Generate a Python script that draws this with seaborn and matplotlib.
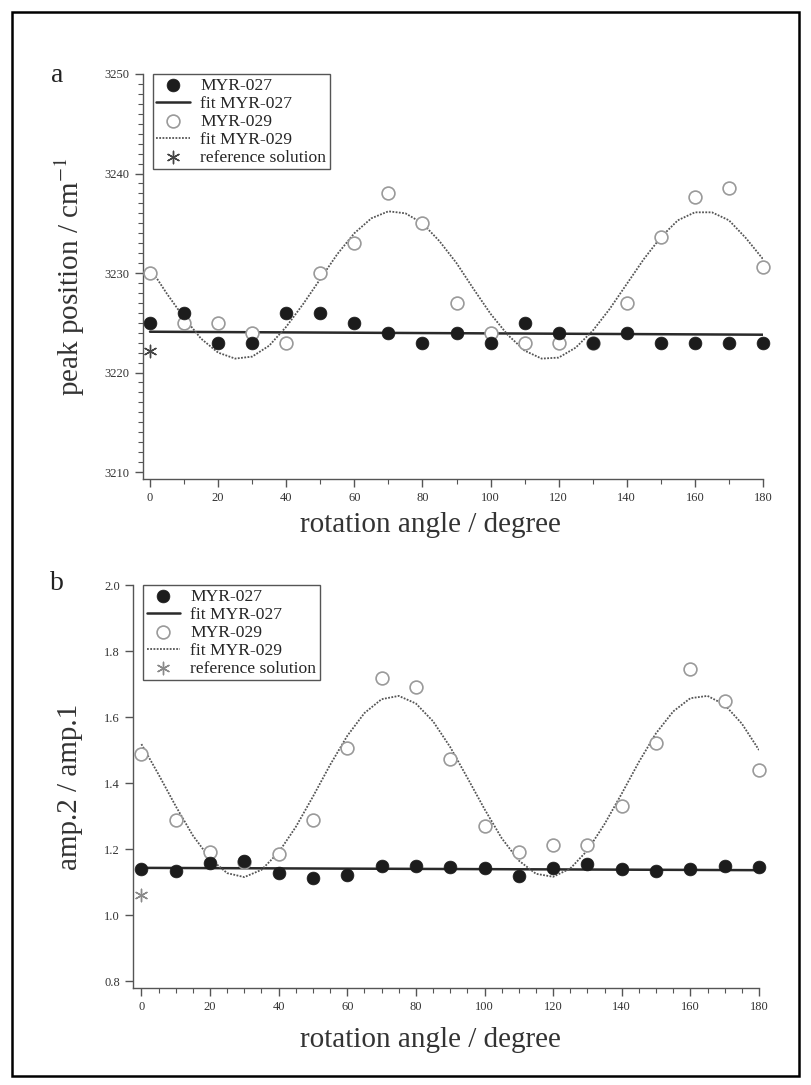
import pandas as pd
import seaborn as sns
import matplotlib.pyplot as plt
from matplotlib.patches import Rectangle
from matplotlib.ticker import MultipleLocator, FormatStrFormatter

# measured points, every 10 degrees
angle = [0, 10, 20, 30, 40, 50, 60, 70, 80, 90, 100, 110, 120, 130, 140, 150, 160, 170, 180]

# panel a: peak position
a_027 = [3225, 3226, 3223, 3223, 3226, 3226, 3225, 3224, 3223, 3224,
         3223, 3225, 3224, 3223, 3224, 3223, 3223, 3223, 3223]
a_029 = [3230, 3225, 3225, 3224, 3223, 3230, 3233, 3238, 3235, 3227,
         3224, 3223, 3223, 3223, 3227, 3233.6, 3237.6, 3238.5, 3230.6]
a_ref = [3222.2]

# panel b: amplitude ratio
b_027 = [1.141, 1.133, 1.159, 1.164, 1.126, 1.113, 1.121, 1.148, 1.148, 1.147,
         1.144, 1.119, 1.142, 1.155, 1.139, 1.133, 1.139, 1.149, 1.147]
b_029 = [1.487, 1.288, 1.190, 1.160, 1.184, 1.288, 1.505, 1.719, 1.690, 1.473,
         1.270, 1.190, 1.212, 1.212, 1.330, 1.520, 1.745, 1.648, 1.440]
b_ref = [1.061]

# fit curves
fit_ends = [0, 180]
a_fit027 = [3224.1, 3223.8]
b_fit027 = [1.143, 1.136]

fit_angle = list(range(0, 181, 5))
a_fit029 = [3230.5, 3227.9, 3225.5, 3223.4, 3222.0, 3221.4, 3221.6, 3222.7, 3224.6, 3226.9,
            3229.4, 3231.9, 3234.0, 3235.5, 3236.2, 3236.0, 3235.0, 3233.2, 3231.0, 3228.4,
            3225.9, 3223.8, 3222.2, 3221.4, 3221.5, 3222.5, 3224.2, 3226.4, 3228.9, 3231.4,
            3233.6, 3235.3, 3236.1, 3236.1, 3235.3, 3233.5, 3231.4]
b_fit029 = [1.518, 1.426, 1.330, 1.241, 1.171, 1.127, 1.115, 1.137, 1.190, 1.267,
            1.359, 1.455, 1.543, 1.612, 1.654, 1.664, 1.641, 1.587, 1.509, 1.416,
            1.321, 1.233, 1.165, 1.125, 1.116, 1.141, 1.196, 1.276, 1.368, 1.464,
            1.551, 1.617, 1.657, 1.664, 1.637, 1.580, 1.500]

sns.set_style('ticks')
plt.rcParams['font.family'] = ['Liberation Serif', 'DejaVu Serif']
plt.rcParams['mathtext.fontset'] = 'stix'

W, H = 811, 1085
fig = plt.figure(figsize=(W / 100, H / 100), dpi=100)

def px_axes(left, right, top, bottom):
    return fig.add_axes([left / W, 1 - bottom / H, (right - left) / W, (bottom - top) / H])

ax1 = px_axes(143, 763, 74, 479)
ax2 = px_axes(133, 759, 585, 988)

order = ['MYR-027', 'fit MYR-027', 'MYR-029', 'fit MYR-029', 'reference solution']


def panel(ax, y027, y029, fit027, fit029, ref, ref_col):
    pts = pd.DataFrame({'angle': angle, 'v027': y027, 'v029': y029})
    sns.lineplot(x=fit_ends, y=fit027, ax=ax, color='#2a2a2a', lw=1.8,
                 label='fit MYR-027', zorder=2)
    sns.lineplot(x=fit_angle, y=fit029, ax=ax, color='#555555', lw=1.3,
                 dashes=False, label='fit MYR-029', zorder=2)
    ax.lines[-1].set_linestyle((0, (1, 0.8)))
    sns.scatterplot(data=pts, x='angle', y='v029', ax=ax, marker='o', s=85,
                    facecolor='white', edgecolor='#9a9a9a', linewidth=1.2,
                    label='MYR-029', zorder=3)
    sns.scatterplot(data=pts, x='angle', y='v027', ax=ax, marker='o', s=85,
                    color='#1c1c1c', edgecolor='#1c1c1c', linewidth=0.5,
                    label='MYR-027', zorder=4)
    sns.scatterplot(x=[0], y=ref, ax=ax, marker=(6, 2, 0), s=80,
                    color=ref_col, edgecolor=ref_col, linewidth=1.0,
                    label='reference solution', zorder=4)
    for c in ax.collections:
        c.set_clip_on(False)
    h, l = ax.get_legend_handles_labels()
    lookup = dict(zip(l, h))
    leg = ax.legend([lookup[k] for k in order], order, loc='upper left',
                    bbox_to_anchor=(0.016, 1.0), borderaxespad=0, fontsize=12.6,
                    labelspacing=0.1, handlelength=1.9, handletextpad=0.6,
                    borderpad=0.2, fancybox=False, framealpha=1,
                    edgecolor='#555555')
    leg.get_frame().set_linewidth(1.0)
    sns.despine(ax=ax)
    for s in ('left', 'bottom'):
        ax.spines[s].set_color('#555555')
        ax.spines[s].set_linewidth(1.0)
    ax.tick_params(which='both', direction='out', colors='#555555',
                   labelcolor='#333333', labelsize=9)
    ax.tick_params(which='major', length=6, width=1)
    ax.tick_params(which='minor', length=3.5, width=0.8)
    ax.xaxis.set_major_locator(MultipleLocator(20))
    ax.set_xlabel('rotation angle / degree', fontsize=21, color='#333333')
    ax.xaxis.label.set_va('center')
    ax.yaxis.label.set_va('center')


panel(ax1, a_027, a_029, a_fit027, a_fit029, a_ref, '#444444')
ax1.set_xlim(-2.06, 180)
ax1.set_ylim(3209.3, 3250)
ax1.yaxis.set_major_locator(MultipleLocator(10))
ax1.yaxis.set_minor_locator(MultipleLocator(1))
ax1.xaxis.set_minor_locator(MultipleLocator(10))
ax1.set_ylabel('peak position / cm$^{-1}$', fontsize=21, color='#333333', va='center')
ax1.yaxis.set_label_coords((70 - 143) / 620, 0.5)
ax1.xaxis.set_label_coords((430 - 143) / 620, (479 - 525) / 405)

panel(ax2, b_027, b_029, b_fit027, b_fit029, b_ref, '#8a8a8a')
ax2.set_xlim(-2.45, 180)
ax2.set_ylim(0.779, 2.0)
ax2.yaxis.set_major_locator(MultipleLocator(0.2))
ax2.yaxis.set_major_formatter(FormatStrFormatter('%.1f'))
ax2.xaxis.set_minor_locator(MultipleLocator(5))
ax2.set_ylabel('amp.2 / amp.1', fontsize=21, color='#333333', va='center')
ax2.yaxis.set_label_coords((70 - 133) / 626, 0.5)
ax2.xaxis.set_label_coords((430 - 133) / 626, (988 - 1040) / 403)

fig.text(57 / W, 1 - 75 / H, 'a', fontsize=20, ha='center', va='center', color='#222222')
fig.text(57 / W, 1 - 583 / H, 'b', fontsize=20, ha='center', va='center', color='#222222')

fig.add_artist(Rectangle((12 / W, 1 - 1076 / H), (799 - 12) / W, (1076 - 12) / H,
                         transform=fig.transFigure, fill=False, lw=1.8, ec='black'))

fig.savefig('out.png', dpi=100)
